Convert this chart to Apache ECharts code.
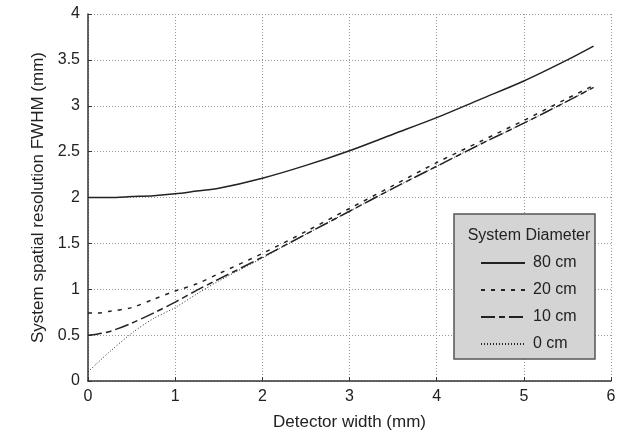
<!DOCTYPE html>
<html>
<head>
<meta charset="utf-8">
<script src="https://cdn.jsdelivr.net/npm/echarts@6/dist/echarts.min.js"></script>
<style>
  html, body { margin: 0; padding: 0; background: #fff; }
  #main { width: 633px; height: 436px; }
</style>
</head>
<body>
<div id="main"></div>
<script>
"use strict";

// detector width (mm)
var widths = [0, 0.1, 0.25, 0.5, 0.75, 1, 1.25, 1.5, 2, 2.5, 3, 3.5, 4, 4.5, 5, 5.5, 5.8];
// FWHM (mm) for each system diameter
var d80 = [2.0, 2.0, 2.0, 2.01, 2.02, 2.04, 2.07, 2.1, 2.21, 2.35, 2.51, 2.69, 2.87, 3.07, 3.27, 3.5, 3.65];
var d20 = [0.74, 0.74, 0.76, 0.8, 0.89, 0.98, 1.06, 1.17, 1.39, 1.63, 1.88, 2.13, 2.38, 2.61, 2.84, 3.08, 3.22];
var d10 = [0.5, 0.51, 0.54, 0.63, 0.74, 0.86, 0.99, 1.11, 1.35, 1.6, 1.85, 2.1, 2.34, 2.58, 2.81, 3.05, 3.2];
var d0 = [0.1, 0.19, 0.32, 0.52, 0.68, 0.8, 0.95, 1.09, 1.34, 1.6, 1.85, 2.1, 2.34, 2.58, 2.81, 3.05, 3.2];
var seriesNames = ["80 cm", "20 cm", "10 cm", "0 cm"];

var chart = echarts.init(document.getElementById("main"));

function pairs(ys) {
  return widths.map(function (x, i) { return [x, ys[i]]; });
}

var font = "Liberation Sans";
var ink = "#222";

function lineSeries(name, ys, type, width) {
  return {
    name: name,
    type: "line",
    data: pairs(ys),
    smooth: 0.3,
    symbol: "none",
    showSymbol: false,
    itemStyle: { color: ink },
    lineStyle: { color: ink, width: width, type: type },
    z: 2
  };
}

var option = {
  animation: false,
  grid: { left: 88, right: 22, top: 14, bottom: 54 },
  xAxis: {
    type: "value",
    min: 0, max: 6, interval: 1,
    name: "Detector width (mm)",
    nameLocation: "middle",
    nameGap: 33,
    nameTextStyle: { fontFamily: font, fontSize: 17, color: ink },
    axisLine: { lineStyle: { color: "#333", width: 1.5 } },
    axisTick: { show: true, inside: true, length: 4, lineStyle: { color: "#333" } },
    axisLabel: { fontFamily: font, fontSize: 16, color: ink, margin: 8 },
    splitLine: { show: true, lineStyle: { color: "#999", type: [1, 2], width: 1 } }
  },
  yAxis: {
    type: "value",
    min: 0, max: 4, interval: 0.5,
    name: "System spatial resolution FWHM (mm)",
    nameLocation: "middle",
    nameGap: 41,
    nameTextStyle: { fontFamily: font, fontSize: 17, color: ink },
    axisLine: { show: true, lineStyle: { color: "#333", width: 1.5 } },
    axisTick: { show: true, inside: true, length: 4, lineStyle: { color: "#333" } },
    axisLabel: { fontFamily: font, fontSize: 16, color: ink, margin: 8 },
    splitLine: { show: true, lineStyle: { color: "#999", type: [1, 2], width: 1 } }
  },
  title: {
    text: "System Diameter",
    left: 524, top: 223,
    textAlign: "center",
    textStyle: { fontFamily: font, fontSize: 16, fontWeight: "normal", color: ink }
  },
  legend: {
    orient: "vertical",
    left: 475, top: 250,
    itemWidth: 44, itemHeight: 14, itemGap: 11,
    data: seriesNames,
    itemStyle: { opacity: 0 },
    textStyle: { fontFamily: font, fontSize: 16, color: ink, padding: [0, 0, 0, 3] },
    z: 5
  },
  graphic: [{
    type: "rect",
    shape: { x: 454, y: 214, width: 141, height: 145 },
    style: { fill: "#d4d4d4", stroke: "#555", lineWidth: 1.5 },
    z: 3
  }],
  series: [
    lineSeries(seriesNames[0], d80, "solid", 1.5),
    lineSeries(seriesNames[1], d20, [4, 6], 1.5),
    lineSeries(seriesNames[2], d10, [14, 4, 6, 4], 1.5),
    lineSeries(seriesNames[3], d0, [1, 2], 1)
  ]
};

chart.setOption(option);
</script>
</body>
</html>
